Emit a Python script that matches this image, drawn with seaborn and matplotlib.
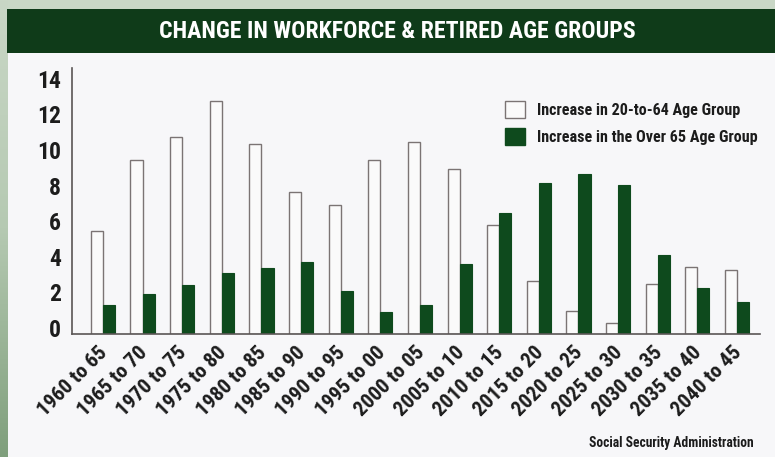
import numpy as np
import pandas as pd
import matplotlib
matplotlib.use("Agg")
import matplotlib.pyplot as plt
import matplotlib.transforms as mtransforms
from matplotlib import font_manager as fm
from matplotlib.patches import Rectangle, Patch
from matplotlib.colors import LinearSegmentedColormap
import seaborn as sns

periods = ["1960 to 65", "1965 to 70", "1970 to 75", "1975 to 80", "1980 to 85",
           "1985 to 90", "1990 to 95", "1995 to 00", "2000 to 05", "2005 to 10",
           "2010 to 15", "2015 to 20", "2020 to 25", "2025 to 30", "2030 to 35",
           "2035 to 40", "2040 to 45"]
workforce = [5.8, 9.8, 11.1, 13.1, 10.7, 8.0, 7.25, 9.8, 10.8, 9.3, 6.1, 3.0, 1.3, 0.6, 2.8, 3.75, 3.6]
retired = [1.65, 2.25, 2.75, 3.45, 3.7, 4.05, 2.4, 1.25, 1.65, 3.95, 6.8, 8.5, 9.0, 8.35, 4.45, 2.6, 1.8]
series_names = ["Increase in 20-to-64 Age Group", "Increase in the Over 65 Age Group"]
yticks = [0, 2, 4, 6, 8, 10, 12, 14]
title = "CHANGE IN WORKFORCE & RETIRED AGE GROUPS"
source = "Social Security Administration"

df = pd.DataFrame({
    "period": periods * 2,
    "value": workforce + retired,
    "series": [series_names[0]] * len(periods) + [series_names[1]] * len(periods),
})

sns.set_theme(style="white")

# pick the narrowest available bold sans family
names = {f.name for f in fm.fontManager.ttflist}
pref = ["Liberation Sans Narrow", "Roboto Condensed", "Open Sans Condensed",
        "Noto Sans Condensed", "DejaVu Sans Condensed", "Roboto", "Liberation Sans", "DejaVu Sans"]
FAM = next((n for n in pref if n in names), "DejaVu Sans")
FONT = [FAM, "DejaVu Sans"]
plt.rcParams["font.family"] = FONT
plt.rcParams["font.weight"] = "bold"

W, H = 775, 457
fig = plt.figure(figsize=(W / 100, H / 100), dpi=100)
fig.patch.set_facecolor("#c9d7c6")
renderer = fig.canvas.get_renderer()


def fit(t, target_px):
    w = t.get_window_extent(renderer).width
    t.set_fontsize(t.get_fontsize() * target_px / w)


# left strip gradient
strip = fig.add_axes([0, 0, 8 / W, 1], zorder=-5)
grad = np.linspace(0, 1, 256).reshape(-1, 1)
cm = LinearSegmentedColormap.from_list("g", ["#c9d7c6", "#b5c9b2", "#7f9f7c"])
strip.imshow(grad, aspect="auto", cmap=cm, extent=[0, 1, 0, 1], origin="upper")
strip.axis("off")

# white panel and header
fig.patches.append(Rectangle((8 / W, 0), 1 - 8 / W + 0.01, 1 - 53 / H, transform=fig.transFigure,
                             facecolor="#f7f7f9", edgecolor="none", zorder=-4))
fig.patches.append(Rectangle((7 / W, 1 - 53 / H), 1 - 7 / W + 0.01, 44 / H, transform=fig.transFigure,
                             facecolor="#0f3b19", edgecolor="none", zorder=-4))
tt = fig.text(397 / W, 1 - 32 / H, title, color="white", ha="center", va="center",
              fontsize=18, fontweight="bold", family=FONT)
fit(tt, 476)

ax = fig.add_axes([72 / W, 1 - 334 / H, 688 / W, 266 / H], zorder=2)
ax.set_facecolor("none")
green = "#0e4a1d"
sns.barplot(data=df, x="period", y="value", hue="series", ax=ax,
            palette={series_names[0]: "#fafafa", series_names[1]: green},
            width=0.61, gap=0, saturation=1, legend=False)
for p in ax.containers[0]:
    p.set_edgecolor("#7b7474")
    p.set_linewidth(1.0)
for p in ax.containers[1]:
    p.set_edgecolor(green)
    p.set_linewidth(0.8)

ax.set_xlim(-0.78, 16.58)
ax.set_ylim(0, 14.95)
ax.set_yticks(yticks)
ax.set_yticklabels([str(t) for t in yticks], fontsize=17, fontweight="bold", family=FONT, color="#1c1c1c")
ax.tick_params(axis="y", length=0, pad=8)
ax.tick_params(axis="x", length=0, pad=2)
ax.set_xticks(range(len(periods)))

# size for x tick labels: fit "1960 to 65" to ~90 px
probe = fig.text(0, 0, periods[0], fontsize=13, fontweight="bold", family=FONT)
fit(probe, 90)
xfs = probe.get_fontsize()
probe.remove()
ax.set_xticklabels(periods, rotation=45, ha="right", va="top", rotation_mode="anchor",
                   fontsize=xfs, fontweight="bold", family=FONT, color="#1c1c1c")
off = mtransforms.ScaledTranslation(0, 6 / 100, fig.dpi_scale_trans)
for lab in ax.get_yticklabels():
    lab.set_transform(lab.get_transform() + off)
off2 = mtransforms.ScaledTranslation(-5 / 100, -6 / 100, fig.dpi_scale_trans)
for lab in ax.get_xticklabels():
    lab.set_transform(lab.get_transform() + off2)
ax.set_xlabel("")
ax.set_ylabel("")
for s in ["top", "right"]:
    ax.spines[s].set_visible(False)
for s in ["left", "bottom"]:
    ax.spines[s].set_color("#5a5555")
    ax.spines[s].set_linewidth(1.2)

probe = fig.text(0, 0, series_names[1], fontsize=12, fontweight="bold", family=FONT)
fit(probe, 221)
lfs = probe.get_fontsize()
probe.remove()

handles = [Patch(facecolor="#fafafa", edgecolor="#7b7474", linewidth=1.0),
           Patch(facecolor=green, edgecolor=green)]
em = lfs * 100 / 72
hl = 20 / em
leg = ax.legend(handles, series_names, loc="upper left",
                bbox_to_anchor=((497 - 72) / 688, (334 - 93) / 266),
                frameon=False, borderpad=0, handlelength=hl, handleheight=hl,
                handletextpad=12 / em, labelspacing=10 / em,
                prop={"family": FONT, "size": lfs, "weight": "bold"})
for t in leg.get_texts():
    t.set_color("#1c1c1c")

st = fig.text(754 / W, 1 - 443 / H, source, ha="right", va="center", fontsize=9.5,
              fontweight="bold", family=FONT, color="#1c1c1c")
fit(st, 165)

fig.savefig("out.png", dpi=100, facecolor=fig.get_facecolor())
